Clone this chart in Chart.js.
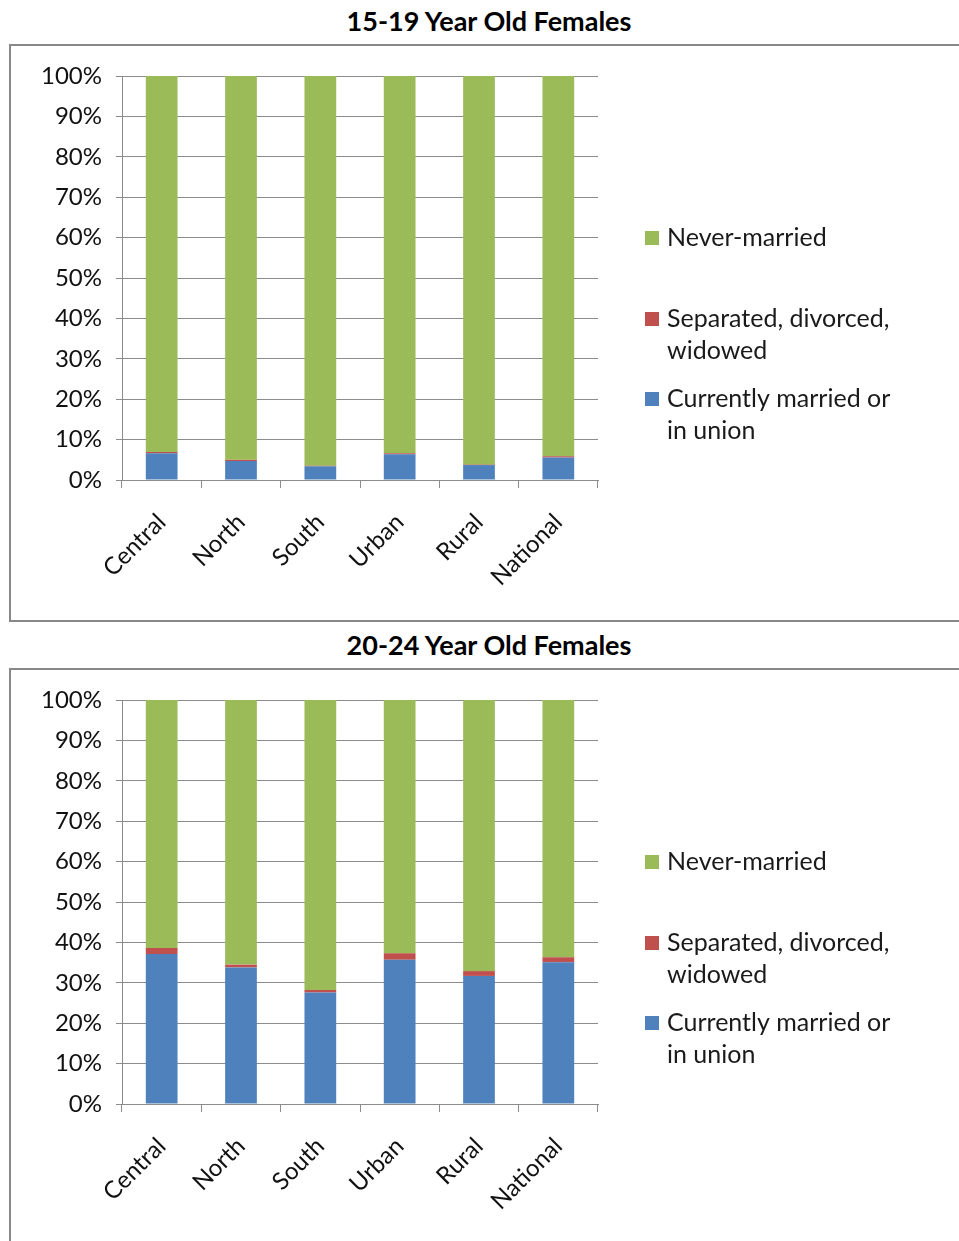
<!DOCTYPE html>
<html>
<head>
<meta charset="utf-8">
<script src="https://cdn.jsdelivr.net/npm/chart.js@4"></script>
<style>
  body { margin: 0; background: #fff; overflow: hidden; font-family: Lato, sans-serif; }
  .title { position: absolute; left: 0; width: 978px; text-align: center; font-weight: bold; font-size: 27px; color: #000; }
  .box { position: absolute; left: 9px; width: 960px; border: 2px solid #888; box-sizing: border-box; }
  .box canvas { position: absolute; left: 0; top: 0; }
</style>
</head>
<body>
<div class="title" style="top:4px">15-19 Year Old Females</div>
<div class="box" style="top:44px;height:578px"><canvas id="chart1" width="948" height="575"></canvas></div>
<div class="title" style="top:628px">20-24 Year Old Females</div>
<div class="box" style="top:668px;height:600px"><canvas id="chart2" width="948" height="575"></canvas></div>
<script>
// données (en %)
const categories = ['Central', 'North', 'South', 'Urban', 'Rural', 'National'];
const yTicks = [0, 10, 20, 30, 40, 50, 60, 70, 80, 90, 100];

const married1519 = [6.6, 4.7, 3.4, 6.4, 3.7, 5.6];
const separated1519 = [0.3, 0.3, 0.1, 0.2, 0.1, 0.3];
const never1519 = [93.1, 95.0, 96.5, 93.4, 96.2, 94.1];

const married2024 = [37.1, 33.8, 27.6, 35.7, 31.7, 35.1];
const separated2024 = [1.5, 0.7, 0.6, 1.6, 1.2, 1.2];
const never2024 = [61.4, 65.5, 71.8, 62.7, 67.1, 63.7];

const seriesLabels = [['Currently married or', 'in union'], ['Separated, divorced,', 'widowed'], ['Never-married']];
const colors = ['#4F81BD', '#C0504D', '#9BBB59'];

const gridGray = '#8c8c8c';
const fontFamily = 'Lato, sans-serif';

// légende dessinée à la main (texte sur deux lignes)
const sideLegend = {
    id: 'sideLegend',
    afterDraw(chart) {
        const ctx = chart.ctx;
        const rows = [{ i: 2, y: 192 }, { i: 1, y: 273 }, { i: 0, y: 353 }];
        ctx.save();
        ctx.font = '25px ' + fontFamily;
        ctx.textBaseline = 'middle';
        rows.forEach(r => {
            const ds = chart.data.datasets[r.i];
            ctx.fillStyle = ds.backgroundColor;
            ctx.fillRect(634, r.y - 7, 14, 14);
            ctx.fillStyle = '#1a1a1a';
            ds.legendLines.forEach((line, k) => {
                ctx.fillText(line, 656, r.y + k * 32);
            });
        });
        ctx.restore();
    }
};

function makeChart(id, married, separated, never) {
    const values = [married, separated, never];
    const ctx = document.getElementById(id);
    new Chart(ctx, {
        type: 'bar',
        data: {
            labels: categories,
            datasets: values.map((v, i) => ({
                label: seriesLabels[i].join(' '),
                legendLines: seriesLabels[i],
                data: v,
                backgroundColor: colors[i],
                barPercentage: 0.4,
                categoryPercentage: 1
            }))
        },
        options: {
            responsive: false,
            animation: false,
            layout: { padding: { top: 30, right: 361, left: 0, bottom: 0 } },
            plugins: {
                legend: { display: false },
                tooltip: { enabled: false }
            },
            scales: {
                x: {
                    stacked: true,
                    afterFit: s => { s.height = 141; },
                    grid: { offset: true, drawOnChartArea: false, drawTicks: true, tickLength: 8, color: gridGray },
                    border: { color: gridGray, width: 1 },
                    ticks: {
                        minRotation: 45, maxRotation: 45, padding: 20,
                        color: '#111',
                        font: { family: fontFamily, size: 24 }
                    }
                },
                y: {
                    stacked: true,
                    min: 0, max: 100,
                    afterFit: s => { s.width = 111; },
                    afterBuildTicks: s => { s.ticks = yTicks.map(v => ({ value: v })); },
                    grid: { color: gridGray, tickLength: 6 },
                    border: { color: gridGray, width: 1 },
                    ticks: {
                        padding: 14,
                        color: '#111',
                        font: { family: fontFamily, size: 24 },
                        callback: v => v + '%'
                    }
                }
            }
        },
        plugins: [sideLegend]
    });
}

makeChart('chart1', married1519, separated1519, never1519);
makeChart('chart2', married2024, separated2024, never2024);
</script>
</body>
</html>
